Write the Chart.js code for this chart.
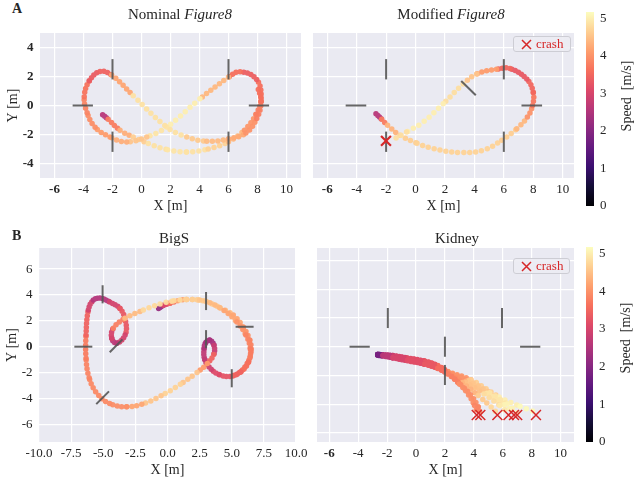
<!DOCTYPE html>
<html>
<head>
<meta charset="utf-8">
<script src="https://cdn.jsdelivr.net/npm/chart.js@4.4.1/dist/chart.umd.min.js"></script>
<style>
  body { margin: 0; background: #fff; width: 634px; height: 485px; position: relative; overflow: hidden;
         font-family: "Liberation Serif", "Times New Roman", serif; color: #262626; }
  canvas { position: absolute; }
  .txt { position: absolute; white-space: nowrap; line-height: 1; }
  .title { font-size: 15px; transform: translate(-50%, -50%); }
  .letter { font-size: 14px; font-weight: bold; transform: translateY(-50%); }
  .cblabel { font-size: 14px; transform: translate(-50%, -50%) rotate(-90deg); }
  .legend { position: absolute; border: 1px solid #cdcdd4; border-radius: 3px; background: rgba(236,236,243,0.9);
            color: #d62728; font-size: 13px; box-sizing: border-box; }
  .legend svg { position: absolute; left: 7px; top: 2px; }
  .legend span { position: absolute; left: 22px; top: 0; line-height: 14px; }
</style>
</head>
<body>

<canvas id="cA1"></canvas>
<canvas id="cA2"></canvas>
<canvas id="cB1"></canvas>
<canvas id="cB2"></canvas>
<canvas id="cbA"></canvas>
<canvas id="cbB"></canvas>

<div class="txt letter" style="left:12px; top:9px;">A</div>
<div class="txt letter" style="left:12px; top:236px;">B</div>
<div class="txt title" style="left:180px; top:14px;">Nominal <i>Figure8</i></div>
<div class="txt title" style="left:451px; top:14px;">Modified <i>Figure8</i></div>
<div class="txt title" style="left:174px; top:238px;">BigS</div>
<div class="txt title" style="left:457px; top:238px;">Kidney</div>
<div class="txt cblabel" style="left:627px; top:96px;">Speed&nbsp;&nbsp;[m/s]</div>
<div class="txt cblabel" style="left:626px; top:338px;">Speed&nbsp;&nbsp;[m/s]</div>

<div class="legend" style="left:513px; top:36px; width:58px; height:16px;">
  <svg width="11" height="11"><path d="M1 1L10 10M10 1L1 10" stroke="#d62728" stroke-width="1.5"/></svg>
  <span>crash</span>
</div>
<div class="legend" style="left:513px; top:258px; width:57px; height:16px;">
  <svg width="11" height="11"><path d="M1 1L10 10M10 1L1 10" stroke="#d62728" stroke-width="1.5"/></svg>
  <span>crash</span>
</div>

<script>
// ---------- datos ----------
const SPEED_MAX = 5.17;
const CB_TICKS = [0, 1, 2, 3, 4, 5];

const F8_X_TICKS = [-6, -4, -2, 0, 2, 4, 6, 8, 10];
const F8_Y_TICKS = [-4, -2, 0, 2, 4];
const BIGS_X_TICKS = [-10, -7.5, -5, -2.5, 0, 2.5, 5, 7.5, 10];
const BIGS_X_LABELS = ['-10.0', '-7.5', '-5.0', '-2.5', '0.0', '2.5', '5.0', '7.5', '10.0'];
const BIGS_Y_TICKS = [-6, -4, -2, 0, 2, 4, 6];
const KID_X_TICKS = [-6, -4, -2, 0, 2, 4, 6, 8, 10];
const KID_Y_TICKS = [-6, -4, -2, 0, 2, 4, 6];

// Nominal Figure8
const nomX = [-2.68, -2.3, -1.48, -0.57, 0.47, 1.8, 3.1, 4.6, 6.0, 7.1, 7.9, 8.25, 7.94, 6.8, 6.0, 4.03, 1.74, 0.36, -1.02, -2.17, -3.2, -3.75, -3.95, -3.6, -2.86, -2.06, -0.57, 1.74, 3.12, 4.5, 6.0, 7.2, 7.95, 8.25, 8.0];
const nomY = [-0.64, -0.95, -1.71, -2.17, -2.62, -3.05, -3.2, -3.0, -2.5, -1.7, -0.6, 0.5, 1.8, 2.33, 1.94, 0.46, -1.49, -2.17, -2.51, -2.17, -1.5, -0.5, 0.6, 1.7, 2.35, 2.1, 0.68, -1.49, -2.17, -2.47, -2.3, -1.9, -0.9, 0.3, 1.3];
const nomS = [1.8, 3.4, 4.1, 4.5, 4.8, 4.9, 4.9, 4.8, 4.6, 4.2, 3.9, 3.7, 3.5, 3.3, 3.9, 4.9, 5.1, 4.7, 4.4, 4.2, 4.0, 3.9, 3.8, 3.5, 3.2, 3.7, 4.7, 5.0, 4.7, 4.5, 4.4, 4.1, 3.9, 3.7, 3.5];
const nomGateX = [-2, 6, -2, 6, -4.05, 8.1];
const nomGateY = [2.5, 2.5, -2.5, -2.5, 0, 0];
const nomGateA = [90, 90, 90, 90, 0, 0];

// Modified Figure8
const modX = [-2.69, -2.3, -1.9, -1.06, 0.1, 1.2, 3.02, 4.6, 5.86, 6.88, 7.6, 7.95, 8.0, 7.56, 6.42, 5.5, 4.16, 3.24, 1.88, 0.52, -0.61, -1.5];
const modY = [-0.57, -0.95, -1.37, -2.05, -2.6, -2.97, -3.24, -3.08, -2.4, -1.6, -0.8, 0.0, 0.91, 1.83, 2.55, 2.5, 2.17, 1.49, 0.12, -1.14, -1.83, -2.35];
const modS = [1.8, 3.4, 4.1, 4.6, 4.7, 4.7, 4.7, 4.7, 4.7, 4.6, 4.2, 3.8, 3.6, 3.4, 3.2, 3.8, 4.4, 4.7, 4.95, 5.05, 4.95, 4.7];
const modGateX = [-2, 6, -2, 6, -4.05, 7.9, 3.6];
const modGateY = [2.5, 2.5, -2.5, -2.5, 0, 0, 1.2];
const modGateA = [90, 90, 90, 90, 0, 0, -45];
const modCrashX = [-2.01];
const modCrashY = [-2.44];

// BigS
const bigX = [-0.69, -0.3, 0.19, 0.8, 1.49, 2.3, 3.05, 4.1, 5.12, 5.9, 6.4, 6.5, 6.2, 5.6, 4.86, 4.0, 3.4, 2.9, 2.85, 3.0, 3.3, 3.62, 3.6, 3.1, 2.3, 1.0, -0.5, -2.0, -3.18, -4.5, -5.5, -6.1, -6.34, -6.34, -6.16, -5.77, -5.2, -4.5, -3.7, -3.25, -3.3, -3.95, -4.34, -4.22, -3.31, -1.88, -0.58, 0.5, 1.49, 2.5, 3.3, 4.4, 5.4, 6.1, 6.45, 6.3, 5.7, 4.9];
const bigY = [2.96, 3.2, 3.35, 3.55, 3.65, 3.62, 3.47, 3.0, 2.44, 1.5, 0.5, -0.4, -1.3, -2.0, -2.31, -2.15, -1.75, -1.0, -0.1, 0.35, 0.5, 0.1, -0.6, -1.3, -2.0, -2.9, -3.8, -4.45, -4.65, -4.4, -3.6, -2.4, -0.9, 0.9, 2.83, 3.6, 3.75, 3.45, 2.96, 1.9, 0.9, 0.26, 0.65, 1.42, 2.19, 2.83, 3.3, 3.55, 3.65, 3.6, 3.4, 2.8, 1.9, 0.9, -0.2, -1.2, -1.95, -2.3];
const bigS = [1.6, 2.8, 3.4, 3.9, 4.4, 4.6, 4.7, 4.5, 4.3, 4.1, 3.9, 3.8, 3.7, 3.5, 3.3, 3.2, 3.0, 2.8, 2.6, 2.4, 2.3, 2.5, 3.1, 3.8, 4.4, 4.7, 4.7, 4.4, 4.0, 3.9, 3.9, 3.9, 3.8, 3.7, 3.2, 2.7, 2.4, 2.7, 3.2, 3.4, 3.2, 2.7, 2.6, 3.4, 4.2, 4.7, 4.8, 4.8, 4.7, 4.6, 4.5, 4.3, 4.1, 3.9, 3.8, 3.7, 3.5, 3.4];
const bigGateX = [-5.05, -6.55, -4.0, -5.05, 3.0, 6.0, 3.0, 5.0];
const bigGateY = [4.05, 0.0, 0.07, -3.95, 3.53, 1.54, 0.58, -2.44];
const bigGateA = [90, 0, 45, 45, 90, 0, 90, 90];

// Kidney (varios intentos, todos chocan)
const kidX = [
  [-2.65, -2.3, -1.6, -0.6, 0.6, 1.5, 2.2, 3.0, 3.6, 4.05, 4.25],
  [-2.65, -2.3, -1.6, -0.6, 0.6, 1.5, 2.2, 3.1, 3.85, 4.3, 4.45],
  [-2.65, -2.3, -1.6, -0.6, 0.6, 1.5, 2.2, 3.2, 4.3, 5.2, 5.63],
  [-2.65, -2.3, -1.6, -0.6, 0.6, 1.5, 2.2, 3.4, 4.7, 5.8, 6.4],
  [-2.65, -2.3, -1.6, -0.6, 0.6, 1.5, 2.2, 3.5, 4.9, 6.1, 6.78],
  [-2.65, -2.3, -1.6, -0.6, 0.6, 1.5, 2.2, 3.6, 5.1, 6.3, 7.0],
  [-2.65, -2.3, -1.6, -0.6, 0.6, 1.5, 2.2, 3.8, 5.75, 7.2, 8.1]
];
const kidY = [
  [-0.58, -0.62, -0.75, -0.95, -1.2, -1.5, -1.88, -2.6, -3.3, -4.1, -4.7],
  [-0.6, -0.64, -0.78, -0.98, -1.22, -1.52, -1.9, -2.65, -3.45, -4.2, -4.7],
  [-0.56, -0.6, -0.72, -0.9, -1.12, -1.42, -1.8, -2.5, -3.4, -4.2, -4.65],
  [-0.55, -0.58, -0.68, -0.85, -1.08, -1.38, -1.78, -2.45, -3.3, -4.1, -4.65],
  [-0.55, -0.58, -0.66, -0.82, -1.05, -1.35, -1.76, -2.4, -3.25, -4.05, -4.6],
  [-0.54, -0.57, -0.64, -0.8, -1.02, -1.32, -1.74, -2.35, -3.2, -4.0, -4.6],
  [-0.54, -0.56, -0.62, -0.78, -1.0, -1.3, -1.72, -2.3, -3.5, -4.15, -4.5]
];
const kidS = [
  [1.2, 2.4, 2.9, 3.1, 3.2, 3.4, 3.7, 3.9, 4.0, 3.9, 3.8],
  [1.2, 2.4, 2.9, 3.1, 3.2, 3.4, 3.7, 3.9, 4.0, 3.9, 3.8],
  [1.2, 2.4, 2.9, 3.1, 3.2, 3.4, 3.7, 4.2, 4.5, 4.7, 4.8],
  [1.2, 2.4, 2.9, 3.1, 3.2, 3.4, 3.7, 4.3, 4.7, 4.9, 5.0],
  [1.2, 2.4, 2.9, 3.1, 3.2, 3.4, 3.7, 4.3, 4.8, 5.0, 5.1],
  [1.2, 2.4, 2.9, 3.1, 3.2, 3.4, 3.7, 4.3, 4.8, 5.0, 5.1],
  [1.2, 2.4, 2.9, 3.1, 3.2, 3.4, 3.7, 4.4, 4.9, 5.1, 5.15]
];
const kidGateX = [-3.9, -1.95, 2.0, 2.0, 5.95, 7.9];
const kidGateY = [0, 2.0, 0.0, -1.97, 2.0, 0];
const kidGateA = [0, 90, 90, 90, 90, 0];
const kidCrashX = [4.2, 4.45, 5.63, 6.4, 6.78, 7.0, 8.3];
const kidCrashY = [-4.76, -4.76, -4.76, -4.76, -4.76, -4.76, -4.76];

// ---------- estilo ----------
const FONT = '"Liberation Serif", "Times New Roman", serif';
const INK = '#262626';
const PANEL_BG = '#eaeaf2';
const CRASH = '#d62728';
const GATE_HALF = 0.7;
const MAGMA = ['#000004', '#140e36', '#3b0f70', '#641a80', '#8c2981', '#b73779',
               '#de4968', '#f7705c', '#fe9f6d', '#fecf92', '#fcfdbf'];

Chart.defaults.font.family = FONT;
Chart.defaults.color = INK;

function hexRgb(h) {
    return [parseInt(h.slice(1, 3), 16), parseInt(h.slice(3, 5), 16), parseInt(h.slice(5, 7), 16)];
}

function speedColor(v) {
    let t = Math.min(1, Math.max(0, v / SPEED_MAX)) * (MAGMA.length - 1);
    const i = Math.min(Math.floor(t), MAGMA.length - 2);
    const f = t - i;
    const a = hexRgb(MAGMA[i]), b = hexRgb(MAGMA[i + 1]);
    const c = a.map((ch, k) => Math.round(ch + (b[k] - ch) * f));
    return `rgba(${c[0]},${c[1]},${c[2]},0.95)`;
}

// fondo gris de cada panel
const panelBg = {
    id: 'panelBg',
    beforeDraw(chart) {
        const a = chart.chartArea;
        const ctx = chart.ctx;
        ctx.save();
        ctx.fillStyle = PANEL_BG;
        ctx.fillRect(a.left, a.top, a.right - a.left, a.bottom - a.top);
        ctx.restore();
    }
};

// barra de color magma
const cbGradient = {
    id: 'cbGradient',
    beforeDraw(chart) {
        const a = chart.chartArea;
        const ctx = chart.ctx;
        const g = ctx.createLinearGradient(0, a.bottom, 0, a.top);
        MAGMA.forEach((c, i) => g.addColorStop(i / (MAGMA.length - 1), c));
        ctx.save();
        ctx.fillStyle = g;
        ctx.fillRect(a.left, a.top, a.right - a.left, a.bottom - a.top);
        ctx.restore();
    }
};

function trajDataset(xs, ys, sp) {
    const avg = c => (sp[c.p0DataIndex] + sp[c.p1DataIndex]) / 2;
    return {
        type: 'scatter',
        showLine: true,
        order: 2,
        data: xs.map((x, i) => ({ x: x, y: ys[i] })),
        pointRadius: 0,
        borderWidth: 5.5,
        borderCapStyle: 'round',
        tension: 0.4,
        borderColor: speedColor(sp[0]),
        segment: {
            borderColor: c => speedColor(avg(c)),
            borderDash: c => [0, Math.max(1, 1.7 * avg(c) - 2)]
        }
    };
}

function gateDatasets(gx, gy, ga) {
    return gx.map((x, i) => {
        const r = ga[i] * Math.PI / 180;
        const dx = GATE_HALF * Math.cos(r), dy = GATE_HALF * Math.sin(r);
        return {
            type: 'scatter',
            showLine: true,
            order: 1,
            data: [{ x: x - dx, y: gy[i] - dy }, { x: x + dx, y: gy[i] + dy }],
            borderColor: 'rgba(85,85,85,0.9)',
            borderWidth: 2,
            pointRadius: 0
        };
    });
}

function crashDataset(cx, cy, w) {
    return {
        type: 'scatter',
        order: 0,
        data: cx.map((x, i) => ({ x: x, y: cy[i] })),
        pointStyle: 'crossRot',
        pointRadius: 7,
        pointBorderWidth: w,
        pointBorderColor: CRASH,
        borderColor: CRASH,
        backgroundColor: CRASH
    };
}

function tickFont(bold) {
    return c => ({
        family: FONT,
        size: 13,
        weight: (c.tick && bold.includes(c.tick.value)) ? 'bold' : 'normal'
    });
}

// crea un panel: g = rectángulo del área de trazado en la página
function makePanel(id, g, o) {
    const PAD_T = 16, PAD_R = 24, AX_Y = 40, AX_X = 40;
    const cv = document.getElementById(id);
    cv.width = g.R - g.L + AX_Y + PAD_R;
    cv.height = g.B - g.T + PAD_T + AX_X;
    cv.style.left = (g.L - AX_Y) + 'px';
    cv.style.top = (g.T - PAD_T) + 'px';

    return new Chart(cv, {
        type: 'scatter',
        data: { datasets: o.datasets },
        plugins: [panelBg],
        options: {
            responsive: false,
            animation: false,
            devicePixelRatio: 1,
            events: [],
            layout: { padding: { left: 0, top: PAD_T, right: PAD_R, bottom: 0 } },
            plugins: { legend: { display: false }, tooltip: { enabled: false } },
            scales: {
                x: {
                    type: 'linear',
                    min: o.xMin, max: o.xMax,
                    afterBuildTicks: s => { s.ticks = o.xTicks.map(v => ({ value: v })); },
                    afterFit: s => { s.height = AX_X; },
                    grid: { color: '#ffffff', lineWidth: 1.2, drawTicks: false },
                    border: { display: false },
                    ticks: {
                        color: INK, padding: 4, maxRotation: 0, autoSkip: false,
                        font: tickFont(o.xBold || []),
                        callback: (v, i) => o.xLabels ? o.xLabels[i] : String(o.xTicks[i])
                    },
                    title: {
                        display: true, text: 'X [m]', color: INK,
                        font: { family: FONT, size: 14 },
                        padding: { top: 0, bottom: 3 }
                    }
                },
                y: {
                    type: 'linear',
                    min: o.yMin, max: o.yMax,
                    afterBuildTicks: s => { s.ticks = o.yTicks.map(v => ({ value: v })); },
                    afterFit: s => { s.width = AX_Y; },
                    grid: { color: '#ffffff', lineWidth: 1.2, drawTicks: false },
                    border: { display: false },
                    ticks: {
                        display: o.showY, color: INK, padding: 6.5, autoSkip: false,
                        font: tickFont(o.yBold || []),
                        callback: (v, i) => String(o.yTicks[i])
                    },
                    title: {
                        display: o.showY, text: 'Y [m]', color: INK,
                        font: { family: FONT, size: 14 },
                        padding: { top: 5, bottom: 0 }
                    }
                }
            }
        }
    });
}

function makeColorbar(id, g) {
    const PAD = 16, AX = 30;
    const cv = document.getElementById(id);
    cv.width = g.R - g.L + AX;
    cv.height = g.B - g.T + 2 * PAD;
    cv.style.left = g.L + 'px';
    cv.style.top = (g.T - PAD) + 'px';

    return new Chart(cv, {
        type: 'scatter',
        data: { datasets: [] },
        plugins: [cbGradient],
        options: {
            responsive: false,
            animation: false,
            devicePixelRatio: 1,
            events: [],
            layout: { padding: { left: 0, top: PAD, right: 0, bottom: PAD } },
            plugins: { legend: { display: false }, tooltip: { enabled: false } },
            scales: {
                x: { display: false, min: 0, max: 1 },
                y: {
                    position: 'right',
                    min: 0, max: SPEED_MAX,
                    afterBuildTicks: s => { s.ticks = CB_TICKS.map(v => ({ value: v })); },
                    afterFit: s => { s.width = AX; },
                    grid: { display: false, drawTicks: false },
                    border: { display: false },
                    ticks: { color: INK, padding: 6, font: { family: FONT, size: 13 }, callback: v => String(v) }
                }
            }
        }
    });
}

// ---------- paneles ----------
makePanel('cA1', { L: 40, T: 33, R: 301, B: 178 }, {
    xMin: -7, xMax: 11, yMin: -5, yMax: 5,
    xTicks: F8_X_TICKS, yTicks: F8_Y_TICKS, showY: true,
    xBold: [-6], yBold: F8_Y_TICKS,
    datasets: [trajDataset(nomX, nomY, nomS)].concat(gateDatasets(nomGateX, nomGateY, nomGateA))
});

makePanel('cA2', { L: 313, T: 33, R: 574, B: 178 }, {
    xMin: -6.97, xMax: 10.77, yMin: -5, yMax: 5,
    xTicks: F8_X_TICKS, yTicks: F8_Y_TICKS, showY: false,
    xBold: [-6],
    datasets: [trajDataset(modX, modY, modS)]
        .concat(gateDatasets(modGateX, modGateY, modGateA))
        .concat([crashDataset(modCrashX, modCrashY, 2.2)])
});

makePanel('cB1', { L: 39, T: 248, R: 296, B: 442 }, {
    xMin: -10, xMax: 10, yMin: -7.37, yMax: 7.63,
    xTicks: BIGS_X_TICKS, xLabels: BIGS_X_LABELS, yTicks: BIGS_Y_TICKS, showY: true,
    yBold: [0],
    datasets: [trajDataset(bigX, bigY, bigS)].concat(gateDatasets(bigGateX, bigGateY, bigGateA))
});

makePanel('cB2', { L: 317, T: 248, R: 574, B: 442 }, {
    xMin: -6.85, xMax: 10.93, yMin: -6.64, yMax: 6.88,
    xTicks: KID_X_TICKS, yTicks: KID_Y_TICKS, showY: false,
    xBold: [-6],
    datasets: kidX.map((xs, k) => trajDataset(xs, kidY[k], kidS[k]))
        .concat(gateDatasets(kidGateX, kidGateY, kidGateA))
        .concat([crashDataset(kidCrashX, kidCrashY, 1.5)])
});

makeColorbar('cbA', { L: 586, T: 12, R: 594, B: 206 });
makeColorbar('cbB', { L: 586, T: 247, R: 593, B: 442 });
</script>
</body>
</html>
